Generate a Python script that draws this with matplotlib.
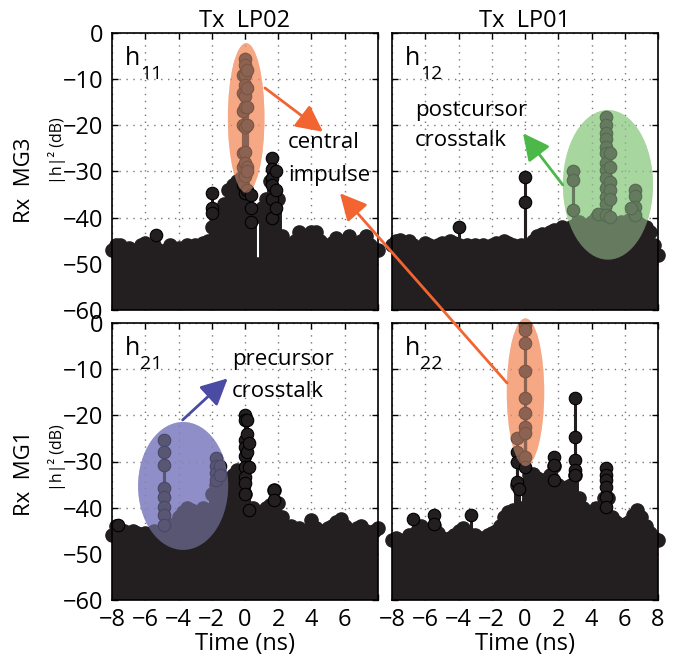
import numpy as np
import matplotlib
matplotlib.use('Agg')
import matplotlib.pyplot as plt
from matplotlib.patches import Ellipse

plt.rcParams['font.family'] = ['Open Sans', 'DejaVu Sans']

# sample times (ns)
t_ns = np.arange(-8, 8.001, 0.25)

# top of the dense noise floor for each panel (dB)
h11_floor = [-47, -46, -46, -47, -46.5, -47.5, -47, -46, -45.5, -47, -46, -47, -48,
             -47, -46, -47, -46.5, -47.5, -46, -47, -46, -46.5, -45.5, -45, -42, -40,
             -39, -37, -34, -33, -32, -31.5, -35, -35, -40, -50, -38, -36, -32, -30,
             -36, -44, -47, -46, -45, -43, -45, -44, -43, -43, -45, -46, -46.5, -45.5,
             -44.5, -46, -45, -44, -45.5, -46, -45, -44, -46, -47, -47]
h12_floor = [-46, -45, -44.8, -45.5, -45, -46, -47, -46.5, -45.5, -46, -47, -46, -45.5,
             -46, -45, -45.5, -46, -47, -46, -46.5, -46, -46.5, -46, -47, -46, -45.5,
             -46, -45, -45.5, -46, -46.5, -46, -47, -46, -45, -44, -43.5, -44.5, -43,
             -42.7, -43.5, -42, -42.5, -42, -41.5, -41, -42, -41.5, -41, -40, -41.5, -41,
             -40.5, -41.5, -42, -41, -41.5, -40.5, -40, -41, -41.5, -42, -43, -46, -48]
h21_floor = [-46, -44, -45.5, -45, -46, -45, -45.5, -46, -45.5, -46, -45, -46, -45,
             -44, -44.5, -43.5, -42, -41, -40, -40.5, -41, -41, -40, -40.5, -37, -35,
             -33, -34, -34, -33, -31.8, -38, -37, -40, -40, -42, -41, -40, -39.5, -36.2,
             -39, -42, -44.5, -44, -45, -44.5, -45, -45, -42.7, -44.5, -45.5, -45, -44.5,
             -44, -43, -42.5, -44, -45, -45.5, -44.5, -44, -45, -46, -45, -44.5]
h22_floor = [-47, -46.5, -47, -47.5, -46, -46, -45, -44, -45, -45, -44, -45.5, -46.5,
             -47.5, -46.5, -46, -45, -44.5, -46, -46, -46, -46.5, -46.5, -46, -45.5, -45,
             -44, -42, -41, -40.5, -35, -40, -35, -33, -32.6, -33.5, -34, -34, -33, -31,
             -35, -36, -35.5, -35, -33, -38, -40, -41, -41, -40, -41, -38, -38, -42, -43,
             -44, -43.5, -43, -41.5, -40.5, -42, -44, -45.5, -46.5, -47]

# taller stems / stacked samples standing out of the floor
h11_peak_t = [-5.375, -2.0, -2.0, -2.0,
              -0.125, -0.125, -0.125, -0.125, -0.125, -0.125, -0.125,
              0, 0, 0, 0, 0, 0, 0, 0, 0, 0, 0,
              0.125, 0.125, 0.125, 0.125, 0.125, 0.125, 0.125,
              0.375, 0.375, 0.375,
              1.625, 1.625, 1.625, 1.625, 1.625, 1.625, 1.875, 1.875, 1.875]
h11_peak_db = [-43.8, -34.6, -38, -39,
               -9, -13, -17, -20, -26, -29, -33,
               -5.7, -7, -9, -11.3, -13.7, -16, -20.3, -25.7, -28.2, -31, -34.7,
               -8, -12, -16, -20, -29, -30, -34,
               -35, -38, -41,
               -27, -29.5, -31.5, -33, -36, -40, -30, -34, -38]
h12_peak_t = [-4.0, 0, 0, 2.875, 2.875, 2.875, 4.375,
              4.875, 4.875, 4.875, 4.875, 4.875, 4.875, 4.875, 4.875, 4.875, 4.875,
              4.875, 4.875, 4.875,
              5.125, 5.125, 5.125, 5.125, 5.125, 5.125,
              6.625, 6.625, 6.625, 6.625, 6.375]
h12_peak_db = [-42, -31.1, -36.5, -30, -31.8, -38.3, -39.1,
               -18.3, -20, -21.7, -23, -24.6, -26, -28.2, -29.7, -31.5, -33.6,
               -35.5, -37, -39.4,
               -26, -29, -32.2, -34, -36, -39.8,
               -33.9, -35.4, -37.6, -39.4, -38]
h21_peak_t = [-7.625, -4.875, -4.875, -4.875, -4.875, -4.875, -4.875, -4.875, -4.875,
              -1.75, -1.75, -1.75, -1.75, -1.5, -1.5,
              0, 0, 0, 0, 0, 0, 0, 0, 0,
              0.125, 0.125, 0.125, 0.25, 0.25, 0.25, 1.75, 1.75]
h21_peak_db = [-43.8, -25.3, -27.9, -30.8, -35.8, -37.6, -39.8, -41.6, -43.8,
               -29.3, -31, -32.5, -34, -31, -33,
               -19.9, -21, -25.3, -26.8, -28.9, -31.1, -33.3, -34.7, -37,
               -21, -24, -28, -26, -31.1, -40.5, -36.2, -38.3]
h22_peak_t = [-6.75, -5.5, -5.5, -3.25,
              -0.5, -0.5, -0.5, -0.5, -0.375,
              0, 0, 0, 0, 0, 0, 0, 0, 0, 0,
              1.75, 1.75, 1.75,
              3.0, 3.0, 3.0, 3.0, 3.0,
              4.875, 4.875, 4.875, 4.875, 4.875, 4.875]
h22_peak_db = [-42.5, -41.6, -43.5, -41.6,
               -25, -27.9, -30, -34.4, -36,
               -0.4, -1.5, -4.4, -10.5, -16.3, -19.6, -22.5, -23.9, -29, -31.1,
               -29, -30.8, -34,
               -16.3, -24.6, -29.7, -31.8, -32.9,
               -31.5, -33, -34, -35.5, -37.6, -39.8]

x_ticks = [-8, -6, -4, -2, 0, 2, 4, 6, 8]
y_ticks = [-60, -50, -40, -30, -20, -10, 0]

ink = '#231f20'
orange = '#f6a884'
green = '#a7d69e'
purple = '#8f8ec9'

fig = plt.figure(figsize=(6.82, 6.61), dpi=100)
W, H = 682.0, 661.0
aw, ah = 266 / W, 277 / H
ax11 = fig.add_axes([112 / W, 1 - 310 / H, aw, ah])
ax12 = fig.add_axes([392 / W, 1 - 310 / H, aw, ah])
ax21 = fig.add_axes([112 / W, 1 - 600 / H, aw, ah])
ax22 = fig.add_axes([392 / W, 1 - 600 / H, aw, ah])


def draw_panel(ax, floor, pk_t, pk_db, name):
    ax.vlines(t_ns, -60, floor, color=ink, lw=5, zorder=2)
    ax.plot(t_ns, floor, 'o', ms=9.5, mfc=ink, mec=ink, zorder=3, clip_on=False)
    ax.vlines(pk_t, -60, pk_db, color=ink, lw=2.2, zorder=2)
    ax.plot(pk_t, pk_db, 'o', ms=9, mfc=ink, mec='black', mew=0.8, zorder=3)
    ax.set_xlim(-8, 8)
    ax.set_ylim(-60, 0)
    ax.set_xticks(x_ticks)
    ax.set_yticks(y_ticks)
    ax.grid(True, ls=(0, (1, 4)), color='#777777', lw=1)
    ax.tick_params(direction='in', top=True, right=True, length=4, width=1,
                   labelsize=17, pad=6)
    for s in ax.spines.values():
        s.set_linewidth(1.2)
        s.set_zorder(5)
    ax.text(0.05, 0.885, 'h', transform=ax.transAxes, fontsize=18, zorder=6)
    ax.text(0.105, 0.835, name, transform=ax.transAxes, fontsize=14, zorder=6)


def blob(ax, cx, cy, w, h, col):
    # opaque light fill under the data, half-transparent tint above it
    ax.add_patch(Ellipse((cx, cy), w, h, facecolor=col, edgecolor='none',
                         zorder=1, clip_on=False))
    ax.add_patch(Ellipse((cx, cy), w, h, facecolor=col, edgecolor='none',
                         alpha=0.5, zorder=4, clip_on=False))


draw_panel(ax11, h11_floor, h11_peak_t, h11_peak_db, '11')
draw_panel(ax12, h12_floor, h12_peak_t, h12_peak_db, '12')
draw_panel(ax21, h21_floor, h21_peak_t, h21_peak_db, '21')
draw_panel(ax22, h22_floor, h22_peak_t, h22_peak_db, '22')

ax11.tick_params(labelbottom=False)
ax12.tick_params(labelbottom=False, labelleft=False)
ax22.tick_params(labelleft=False)
ax21.set_xticklabels(['\u22128', '\u22126', '\u22124', '\u22122', '0', '2', '4', '6', ''])

ax11.set_title('Tx  LP02', fontsize=17, pad=3)
ax12.set_title('Tx  LP01', fontsize=17, pad=3)
ax21.set_xlabel('Time (ns)', fontsize=17, labelpad=0)
ax22.set_xlabel('Time (ns)', fontsize=17, labelpad=0)

fig.text(24 / W, 1 - 180 / H, 'Rx  MG3', rotation=90, fontsize=16, ha='center', va='center')
fig.text(57 / W, 1 - 151 / H, '|h|\u00b2 (dB)', rotation=90, fontsize=11.5, ha='center', va='center')
fig.text(24 / W, 1 - 473 / H, 'Rx  MG1', rotation=90, fontsize=16, ha='center', va='center')
fig.text(57 / W, 1 - 458 / H, '|h|\u00b2 (dB)', rotation=90, fontsize=11.5, ha='center', va='center')

# highlighted regions
blob(ax11, 0.07, -18.4, 2.2, 32.4, orange)
blob(ax12, 4.99, -32.9, 5.42, 32.4, green)
blob(ax21, -3.72, -35.3, 5.42, 27.7, purple)
blob(ax22, 0.03, -15.0, 2.25, 32.0, orange)

# annotations
txt = dict(fontsize=16, va='center', ha='left', zorder=6, clip_on=False)
ax11.text(2.6, -23.8, 'central', **txt)
ax11.text(2.6, -30.8, 'impulse', **txt)
ax12.text(-6.62, -16.7, 'postcursor', **txt)
ax12.text(-6.62, -23.2, 'crosstalk', **txt)
ax21.text(-0.78, -8.0, 'precursor', **txt)
ax21.text(-0.78, -14.9, 'crosstalk', **txt)


def arrow(col):
    return dict(arrowstyle='-|>,head_length=0.9,head_width=0.45', color=col, lw=2,
                shrinkA=0, shrinkB=0, mutation_scale=18)


ax11.annotate('', xy=(4.69, -21.4), xytext=(1.2, -11.9), arrowprops=arrow('#f26531'),
              annotation_clip=False, zorder=6)
ax12.annotate('', xy=(-0.12, -21.7), xytext=(2.27, -32.9), arrowprops=arrow('#4cb848'),
              annotation_clip=False, zorder=6)
ax21.annotate('', xy=(-1.04, -12.0), xytext=(-3.75, -21.0), arrowprops=arrow('#4b4ba3'),
              annotation_clip=False, zorder=6)
ax22.annotate('', xy=(5.71, -34.7), xycoords=ax11.transData, xytext=(-1.08, -13.0),
              textcoords='data', arrowprops=arrow('#f26531'), annotation_clip=False, zorder=6)

fig.savefig('out.png', dpi=100)
